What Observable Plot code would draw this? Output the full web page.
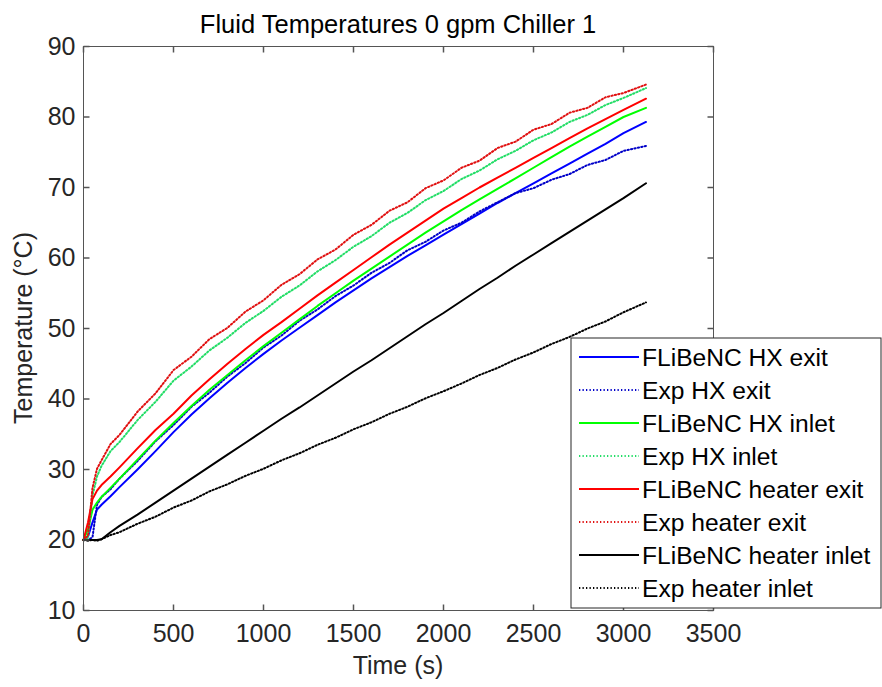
<!DOCTYPE html>
<html><head><meta charset="utf-8">
<script src="https://cdn.jsdelivr.net/npm/d3@7"></script>
<script src="https://cdn.jsdelivr.net/npm/@observablehq/plot@0.6"></script>
<style>
html,body{margin:0;padding:0;background:#fff;}
#chart svg{display:block;}
</style>
</head><body><div id="chart"></div>
<script>
// ---- data ----
const time = [0, 25, 50, 75, 100, 150, 200, 300, 400, 500, 600, 700, 800, 900, 1000, 1100, 1200, 1300, 1400, 1500, 1600, 1700, 1800, 1900, 2000, 2100, 2200, 2300, 2400, 2500, 2600, 2700, 2800, 2900, 3000, 3125];

const fliHxExit      = [20, 20.5, 22.5, 24.3, 25.0, 26.2, 27.5, 30.0, 32.6, 35.3, 37.8, 40.1, 42.3, 44.4, 46.4, 48.3, 50.1, 51.9, 53.7, 55.4, 57.1, 58.7, 60.3, 61.8, 63.3, 64.8, 66.3, 67.8, 69.2, 70.6, 72.0, 73.4, 74.8, 76.2, 77.7, 79.3];
const expHxExit      = [20, 20.0, 20.4, 25.0, 26.1, 27.2, 28.7, 31.2, 34.0, 36.3, 38.9, 40.9, 43.2, 45.1, 47.3, 49.0, 51.1, 52.7, 54.6, 56.1, 57.9, 59.3, 61.1, 62.3, 63.9, 65.0, 66.6, 67.9, 69.2, 69.9, 71.1, 71.9, 73.2, 73.9, 75.2, 75.9];
const fliHxInlet     = [20, 21.5, 24.3, 25.3, 26.1, 27.4, 28.7, 31.4, 34.1, 36.6, 39.0, 41.3, 43.4, 45.5, 47.5, 49.4, 51.3, 53.2, 55.0, 56.8, 58.5, 60.2, 61.9, 63.6, 65.2, 66.8, 68.3, 69.8, 71.3, 72.8, 74.3, 75.8, 77.2, 78.6, 80.0, 81.3];
const expHxInlet     = [20, 20.3, 26.3, 29.0, 30.5, 32.6, 33.9, 37.0, 39.6, 42.6, 44.6, 46.9, 48.7, 50.8, 52.5, 54.5, 56.1, 58.1, 59.7, 61.6, 63.1, 65.0, 66.4, 68.2, 69.5, 71.2, 72.4, 74.0, 75.2, 76.7, 77.8, 79.3, 80.3, 81.7, 82.7, 84.1];
const fliHeaterExit  = [20, 22.5, 25.8, 27.0, 27.8, 29.0, 30.3, 33.0, 35.6, 37.9, 40.5, 42.8, 45.0, 47.1, 49.1, 50.9, 52.8, 54.7, 56.5, 58.3, 60.1, 61.9, 63.6, 65.3, 67.0, 68.5, 70.0, 71.4, 72.8, 74.2, 75.6, 77.0, 78.4, 79.7, 81.0, 82.6];
const expHeaterExit  = [20, 20.6, 27.4, 30.1, 31.3, 33.6, 34.9, 38.2, 40.8, 44.1, 46.0, 48.5, 50.1, 52.4, 54.0, 56.2, 57.7, 59.8, 61.2, 63.3, 64.7, 66.7, 67.9, 69.9, 71.0, 72.8, 73.8, 75.6, 76.5, 78.2, 79.0, 80.6, 81.3, 82.8, 83.4, 84.6];
const fliHeaterInlet = [20, 20.0, 20.0, 20.0, 20.1, 21.1, 22.0, 23.6, 25.3, 27.0, 28.7, 30.4, 32.1, 33.8, 35.5, 37.2, 38.8, 40.5, 42.2, 43.9, 45.5, 47.2, 48.9, 50.6, 52.2, 53.9, 55.6, 57.2, 58.9, 60.5, 62.1, 63.7, 65.3, 66.9, 68.5, 70.6];
const expHeaterInlet = [20, 19.9, 20.0, 19.9, 20.1, 20.7, 21.1, 22.3, 23.3, 24.6, 25.6, 26.9, 27.9, 29.1, 30.1, 31.3, 32.3, 33.5, 34.5, 35.7, 36.7, 37.9, 38.9, 40.1, 41.1, 42.2, 43.4, 44.4, 45.6, 46.6, 47.8, 48.8, 50.0, 51.0, 52.3, 53.7];

const seriesNames  = ["FLiBeNC HX exit", "Exp HX exit", "FLiBeNC HX inlet", "Exp HX inlet", "FLiBeNC heater exit", "Exp heater exit", "FLiBeNC heater inlet", "Exp heater inlet"];
const seriesValues = [fliHxExit, expHxExit, fliHxInlet, expHxInlet, fliHeaterExit, expHeaterExit, fliHeaterInlet, expHeaterInlet];
const seriesColors = ["#0000ff", "#0000c8", "#00ff00", "#22dd66", "#ff0000", "#e01010", "#000000", "#000000"];
const seriesDotted = [false, true, false, true, false, true, false, true];

const xTicks = [0, 500, 1000, 1500, 2000, 2500, 3000, 3500];
const yTicks = [10, 20, 30, 40, 50, 60, 70, 80, 90];

const titleText = "Fluid Temperatures 0 gpm Chiller 1";
const xLabel = "Time (s)";
const yLabel = "Temperature (°C)";

// ---- styles ----
const FONT = "'Liberation Sans', Arial, Helvetica, sans-serif";
const FS = 25;
const AXC = "#262626";
const FRAMEC = "#555555";
const TL = 6;
const tickUp    = {draw(c){c.moveTo(0,0); c.lineTo(0,-TL);}};
const tickDown  = {draw(c){c.moveTo(0,0); c.lineTo(0,TL);}};
const tickRight = {draw(c){c.moveTo(0,0); c.lineTo(TL,0);}};
const tickLeft  = {draw(c){c.moveTo(0,0); c.lineTo(-TL,0);}};

const seriesRows = seriesValues.map(vals => time.map((t, i) => ({t, T: vals[i]})));

const lineMarks = seriesRows.map((rows, k) => Plot.line(rows, {
  x: "t", y: "T",
  stroke: seriesColors[k],
  strokeWidth: 2,
  strokeDasharray: seriesDotted[k] ? "1.3,2.2" : null
}));

const plot = Plot.plot({
  width: 882, height: 687,
  marginLeft: 83, marginRight: 169, marginTop: 46, marginBottom: 77,
  style: {fontFamily: FONT, fontSize: FS + "px", color: AXC, background: "#fff", overflow: "visible"},
  x: {domain: [0, 3500]},
  y: {domain: [10, 90]},
  marks: [
    ...lineMarks,
    Plot.frame({stroke: FRAMEC, strokeWidth: 1}),
    Plot.axisX(xTicks, {tickSize: 0, tickPadding: 14, label: null, fontSize: FS, tickFormat: d => String(d)}),
    Plot.axisY(yTicks, {tickSize: 0, tickPadding: 8, label: null, fontSize: FS, tickFormat: d => String(d)}),
    Plot.dot(xTicks, {x: d => d, frameAnchor: "bottom", symbol: tickUp, stroke: FRAMEC, fill: "none", r: 3}),
    Plot.dot(xTicks, {x: d => d, frameAnchor: "top", symbol: tickDown, stroke: FRAMEC, fill: "none", r: 3}),
    Plot.dot(yTicks, {y: d => d, frameAnchor: "left", symbol: tickRight, stroke: FRAMEC, fill: "none", r: 3}),
    Plot.dot(yTicks, {y: d => d, frameAnchor: "right", symbol: tickLeft, stroke: FRAMEC, fill: "none", r: 3})
  ]
});

const svg = d3.select(plot);
const sx = plot.scale("x"), sy = plot.scale("y");
const xMid = (sx.apply(0) + sx.apply(3500)) / 2;
const yMid = (sy.apply(10) + sy.apply(90)) / 2;

// title
svg.append("text").attr("x", xMid).attr("y", 33).attr("text-anchor", "middle")
  .attr("font-family", FONT).attr("font-size", 25.5).attr("fill", "#000").text(titleText);
// axis labels
svg.append("text").attr("x", xMid).attr("y", 674).attr("text-anchor", "middle")
  .attr("font-family", FONT).attr("font-size", FS).attr("fill", AXC).text(xLabel);
svg.append("text").attr("transform", `translate(32,${yMid}) rotate(-90)`).attr("text-anchor", "middle")
  .attr("font-family", FONT).attr("font-size", FS).attr("fill", AXC).text(yLabel);

// legend
const lg = svg.append("g");
const lgX = 571, lgY = 338, lgW = 310, lgH = 270, rowH = 33, row0 = 357;
lg.append("rect").attr("x", lgX).attr("y", lgY).attr("width", lgW).attr("height", lgH)
  .attr("fill", "#fff").attr("stroke", AXC).attr("stroke-width", 1);
seriesNames.forEach((name, k) => {
  const cy = row0 + k * rowH;
  lg.append("line").attr("x1", 579).attr("x2", 639).attr("y1", cy).attr("y2", cy)
    .attr("stroke", seriesColors[k]).attr("stroke-width", 2)
    .attr("stroke-dasharray", seriesDotted[k] ? "1.3,2.2" : null);
  lg.append("text").attr("x", 642).attr("y", cy).attr("dy", "0.35em").attr("text-anchor", "start")
    .attr("font-family", FONT).attr("font-size", 24.6).attr("fill", "#000").text(name);
});

document.getElementById("chart").appendChild(plot);
</script>
</body></html>
